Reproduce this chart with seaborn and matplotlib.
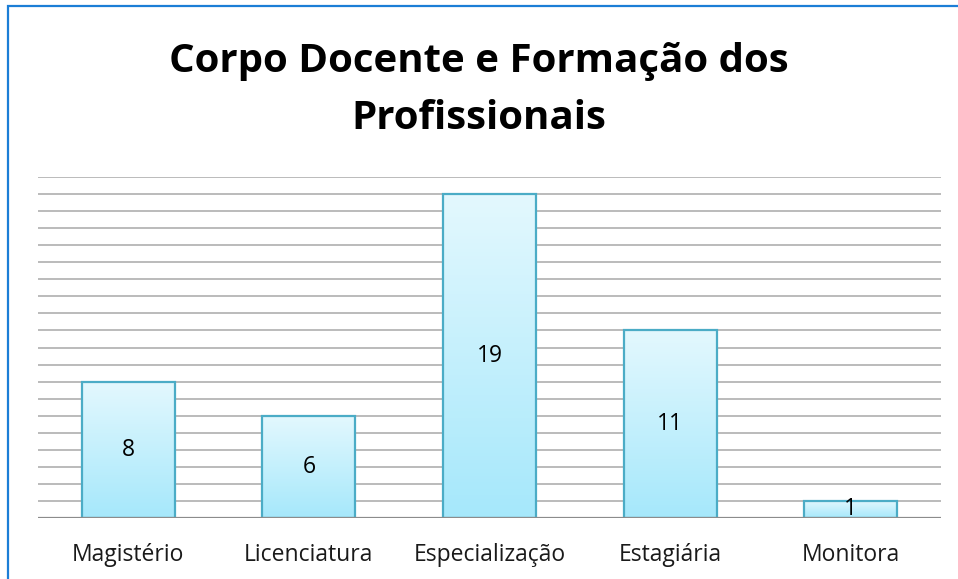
import numpy as np
import pandas as pd
import matplotlib
matplotlib.use("Agg")
import matplotlib.pyplot as plt
import seaborn as sns
from matplotlib.colors import LinearSegmentedColormap
from matplotlib.patches import Rectangle

# data
categorias = ["Magistério", "Licenciatura", "Especialização", "Estagiária", "Monitora"]
valores = [8, 6, 19, 11, 1]
titulo = "Corpo Docente e Formação dos\nProfissionais"

df = pd.DataFrame({"categoria": categorias, "valor": valores})

sns.set_theme(style="white")
plt.rcParams["font.family"] = ["Open Sans", "DejaVu Sans"]

fig = plt.figure(figsize=(9.58, 5.79), dpi=100)
ax = fig.add_axes([38 / 958, 61 / 579, 903 / 958, 341 / 579])

sns.barplot(data=df, x="categoria", y="valor", ax=ax, width=0.515,
            color="#BFEFFC", edgecolor="#4BACC6", linewidth=1.6, zorder=3)

# gradient fill inside each bar
grad = LinearSegmentedColormap.from_list("g", ["#A6E8FB", "#E3F8FE"])
for p in ax.patches:
    x0, y0 = p.get_x(), p.get_y()
    w, h = p.get_width(), p.get_height()
    p.set_facecolor("none")
    im = ax.imshow(np.linspace(0, 1, 100).reshape(-1, 1), cmap=grad,
                   extent=[x0, x0 + w, y0, y0 + h], origin="lower",
                   aspect="auto", zorder=2.5)
    im.set_clip_path(p)

for i, v in enumerate(valores):
    ax.text(i, v / 2, str(v), ha="center", va="center", fontsize=16.5,
            color="black", zorder=4)

ax.set_xlim(-0.5, len(categorias) - 0.5)
ax.set_ylim(0, 20)
for y in range(1, 21):
    ax.axhline(y, color="#B5B5B5", lw=1.3, zorder=1)
ax.axhline(0, color="#8C8C8C", lw=1.6, zorder=4)

ax.set_yticks([])
ax.set_xlabel("")
ax.set_ylabel("")
ax.tick_params(axis="x", length=0, pad=18, labelsize=16.5, labelcolor="#1a1a1a")
for s in ax.spines.values():
    s.set_visible(False)

fig.text(0.5, 1 - 90 / 579, titulo, ha="center", va="center", fontsize=29,
         fontweight="bold", linespacing=1.6, color="black")

# outer border (only top and left visible in reference)
fig.patches.append(Rectangle((8 / 958, -0.05), 1.2, 1 - 6 / 579 + 0.05,
                             transform=fig.transFigure, fill=False,
                             edgecolor="#1C7ED6", lw=1.6))

fig.savefig("out.png", dpi=100)
